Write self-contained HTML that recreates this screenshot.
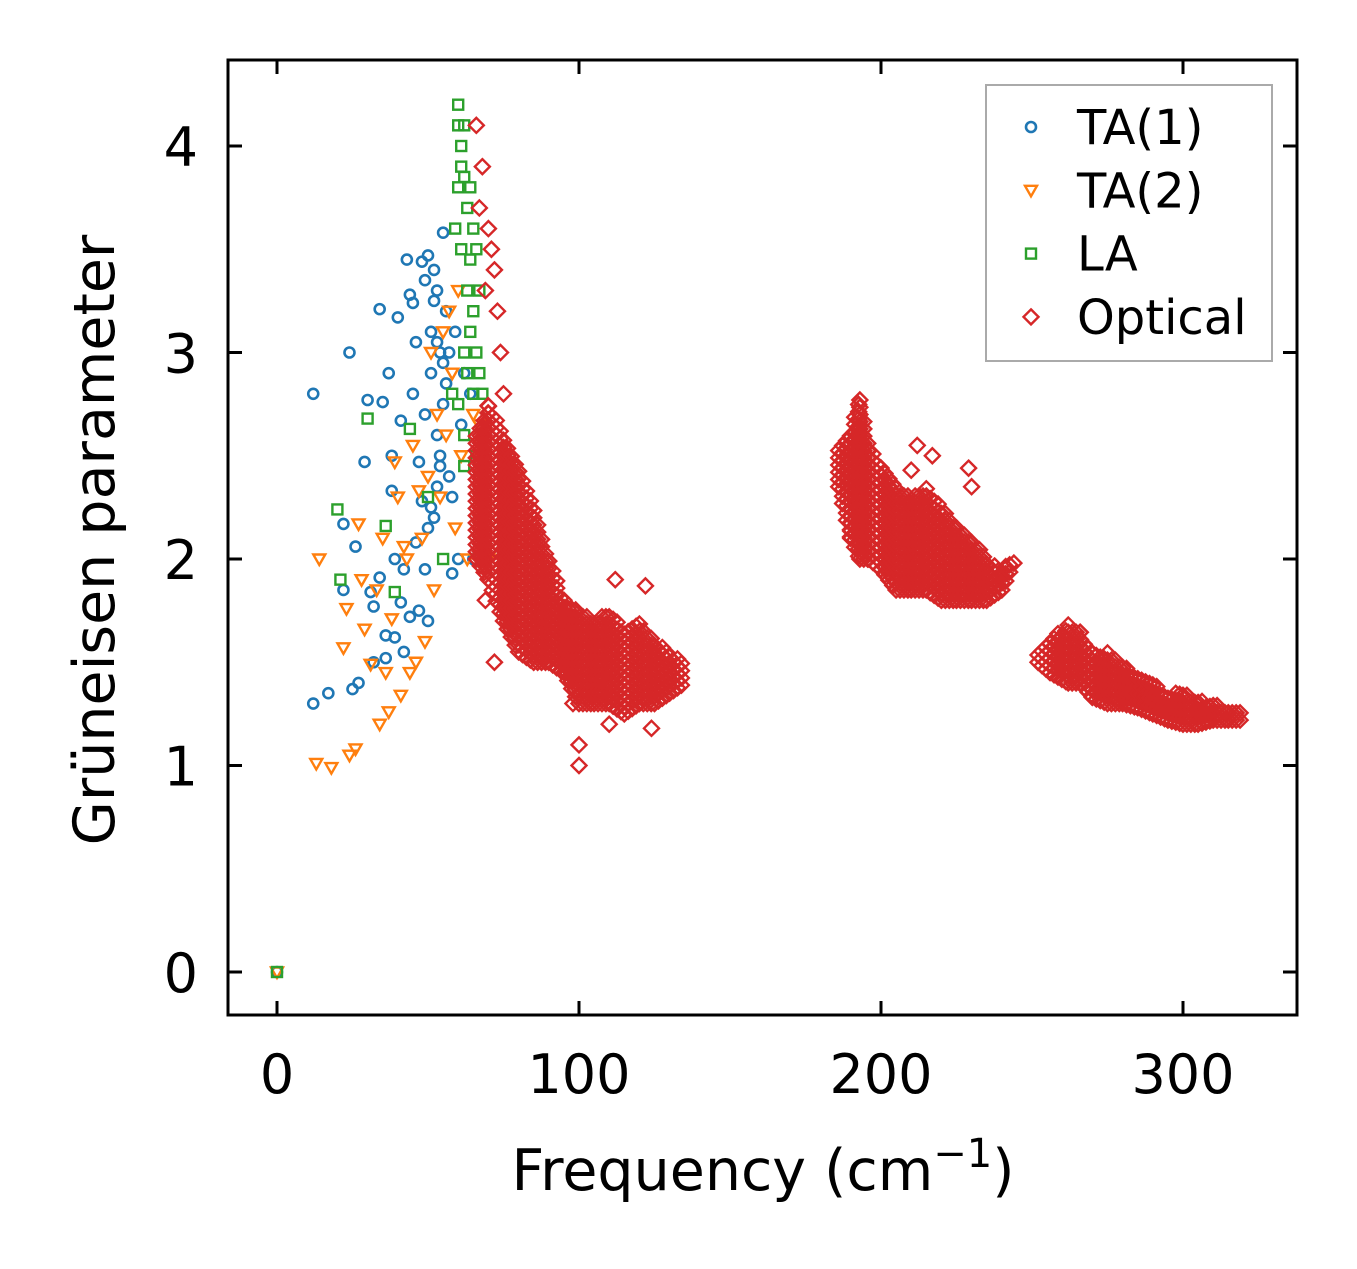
<!DOCTYPE html>
<html><head><meta charset="utf-8"><style>
html,body{margin:0;padding:0;background:#fff;}
svg text{font-family:"DejaVu Sans","Liberation Sans",sans-serif;fill:#000;}
</style></head><body>
<svg id="chart" width="1357" height="1264" viewBox="0 0 1357 1264" xmlns="http://www.w3.org/2000/svg">
<rect x="0" y="0" width="1357" height="1264" fill="#fff"/>
<g id="marks"></g>
<rect x="228" y="60" width="1069" height="955" fill="none" stroke="#000" stroke-width="3"/>
<g id="axes"></g>
<text x="763" y="1190" font-size="57" text-anchor="middle">Frequency (cm<tspan dy="-23" font-size="40">−1</tspan><tspan dy="23">)</tspan></text>
<text transform="translate(114,540) rotate(-90)" font-size="57" text-anchor="middle">Grüneisen parameter</text>
<g>
<rect x="986" y="85" width="286" height="276" fill="#fff" stroke="#aaa" stroke-width="2"/>
<g id="legend-items"></g>
</g>
</svg>
<script>
const xTicks=[0,100,200,300];
const yTicks=[0,1,2,3,4];
const ta1=[[0,0],[12,2.8],[12,1.3],[17,1.35],[22,2.17],[22,1.85],[24,3.0],[25,1.37],[26,2.06],[27,1.4],[29,2.47],[30,2.77],[31,1.84],[32,1.77],[32,1.5],[34,3.21],[34,1.91],[35,2.76],[36,1.63],[36,1.52],[37,2.9],[38,2.33],[38,2.5],[39,1.62],[39,2.0],[40,3.17],[41,1.79],[41,2.67],[42,1.55],[42,1.95],[43,3.45],[44,3.28],[44,1.72],[45,2.8],[45,3.24],[46,3.05],[46,2.08],[47,2.47],[47,1.75],[48,3.44],[48,2.28],[49,1.95],[49,2.7],[50,3.47],[50,2.15],[51,2.9],[51,3.1],[52,3.4],[52,2.2],[53,2.6],[53,3.3],[54,2.5],[54,3.0],[55,3.58],[55,2.75],[56,3.2],[57,2.4],[57,3.0],[58,1.93],[58,2.3],[59,3.1],[60,2.0],[61,2.65],[62,2.9],[64,2.8],[65,2.0],[67,2.4],[50,1.7],[53,2.35],[56,2.85],[52,3.25],[49,3.35],[51,2.25],[54,2.45],[55,2.95],[53,3.05]];
const ta2=[[0,0],[13,1.01],[14,2.0],[18,0.99],[22,1.57],[23,1.76],[24,1.05],[26,1.08],[27,2.17],[28,1.9],[29,1.66],[31,1.49],[33,1.85],[34,1.2],[35,2.1],[36,1.45],[37,1.26],[38,1.71],[39,2.47],[40,2.3],[41,1.34],[42,2.06],[43,2.0],[44,1.45],[45,2.55],[46,1.5],[47,2.33],[48,2.1],[49,1.6],[50,2.4],[51,3.0],[52,1.85],[53,2.7],[54,2.3],[55,3.1],[56,2.6],[57,3.2],[58,2.9],[59,2.15],[60,3.3],[61,2.5],[63,2.0],[65,2.7],[67,2.65],[70,2.0]];
const la=[[0,0],[20,2.24],[21,1.9],[30,2.68],[36,2.16],[39,1.84],[44,2.63],[50,2.3],[55,2.0],[58,2.8],[59,3.6],[60,4.2],[60,3.8],[61,4.0],[61,3.5],[62,4.1],[62,3.0],[62,2.6],[63,3.7],[63,3.3],[63,2.9],[64,3.8],[64,3.45],[64,3.1],[65,3.6],[65,3.2],[65,2.8],[66,3.5],[66,3.0],[66,2.5],[67,3.3],[67,2.9],[68,2.8],[68,2.3],[62,2.45],[60,2.75],[61,3.9],[60,4.1],[62,3.85]];
// optical dense bands: column x, lower and upper y
const optBandX=[66,70,75,80,85,90,95,100,105,110,115,120,125,130,135, 186,190,193,196,200,205,210,215,220,225,230,235,240,243, 252,256,262,266,270,275,280,285,290,295,300,305,310,315,320];
const optBandLow=[2.0,1.9,1.7,1.55,1.5,1.5,1.45,1.3,1.3,1.3,1.25,1.3,1.3,1.35,1.4, 2.35,2.1,2.0,2.0,1.95,1.85,1.85,1.85,1.8,1.8,1.8,1.8,1.85,1.95, 1.5,1.45,1.4,1.4,1.33,1.3,1.3,1.28,1.25,1.22,1.2,1.2,1.22,1.22,1.22];
const optBandHigh=[2.6,2.75,2.6,2.45,2.25,2.0,1.8,1.75,1.7,1.75,1.65,1.7,1.6,1.55,1.5, 2.55,2.6,2.8,2.55,2.45,2.35,2.3,2.35,2.25,2.15,2.1,2.0,1.95,2.0, 1.56,1.62,1.68,1.65,1.55,1.55,1.48,1.45,1.4,1.35,1.35,1.32,1.3,1.28,1.26];
const optSegments=[[0,14],[15,28],[29,43]];
const optOutliers=[[66,4.1],[68,3.9],[70,3.6],[71,3.5],[72,3.4],[73,3.2],[74,3.0],[75,2.8],[67,3.7],[69,3.3],[100,1.0],[100,1.1],[98,1.3],[112,1.9],[122,1.87],[110,1.2],[69,1.8],[72,1.5],[124,1.18],[212,2.55],[217,2.5],[229,2.44],[230,2.35],[210,2.43],[244,1.98]];

const X=v=>277+v*3.02;
const Y=v=>972-v*206.5;
const NS="http://www.w3.org/2000/svg";
const marks=document.getElementById('marks');
function mk(tag,attrs,parent){const e=document.createElementNS(NS,tag);for(const k in attrs)e.setAttribute(k,attrs[k]);parent.appendChild(e);return e;}
function marker(type,cx,cy,parent){
  let e;
  if(type==='circle') e=mk('circle',{cx:cx,cy:cy,r:5,fill:'none',stroke:'#1f77b4','stroke-width':2.6},parent);
  else if(type==='tri') e=mk('polygon',{points:`${cx-6},${cy-4.5} ${cx+6},${cy-4.5} ${cx},${cy+6}`,fill:'none',stroke:'#ff7f0e','stroke-width':2.4},parent);
  else if(type==='square') e=mk('rect',{x:cx-5,y:cy-5,width:10,height:10,fill:'none',stroke:'#2ca02c','stroke-width':2.4},parent);
  else e=mk('polygon',{points:`${cx},${cy-7.5} ${cx+7.5},${cy} ${cx},${cy+7.5} ${cx-7.5},${cy}`,fill:'none',stroke:'#d62728','stroke-width':2.4},parent);
  return e;
}
ta1.forEach(p=>{const e=marker('circle',X(p[0]),Y(p[1]),marks);

});
ta2.forEach(p=>{const e=marker('tri',X(p[0]),Y(p[1]),marks);

});
la.forEach(p=>{const e=marker('square',X(p[0]),Y(p[1]),marks);

});
optSegments.forEach(seg=>{
  for(let i=seg[0];i<seg[1];i++){
    const x0=optBandX[i],x1=optBandX[i+1];
    for(let x=x0;x<x1;x+=1.3){
      const t=(x-x0)/(x1-x0);
      const lo=optBandLow[i]+(optBandLow[i+1]-optBandLow[i])*t;
      const hi=optBandHigh[i]+(optBandHigh[i+1]-optBandHigh[i])*t;
      for(let y=lo;y<=hi+1e-6;y+=0.035){
        const e=marker('diamond',X(x),Y(y),marks);
        
        
      }
    }
  }
});
optOutliers.forEach(p=>{const e=marker('diamond',X(p[0]),Y(p[1]),marks);

});

const axes=document.getElementById('axes');
xTicks.forEach(v=>{
  const x=X(v);
  const t1=mk('line',{x1:x,y1:1015,x2:x,y2:1001,stroke:'#000','stroke-width':3},axes);
  
  
  const t2=mk('line',{x1:x,y1:60,x2:x,y2:74,stroke:'#000','stroke-width':3},axes);
  
  
  const l=mk('text',{x:x,y:1093,'font-size':54,'text-anchor':'middle'},axes);
  l.textContent=v;
  
  
});
yTicks.forEach(v=>{
  const y=Y(v);
  const t1=mk('line',{x1:228,y1:y,x2:242,y2:y,stroke:'#000','stroke-width':3},axes);
  
  
  const t2=mk('line',{x1:1283,y1:y,x2:1297,y2:y,stroke:'#000','stroke-width':3},axes);
  
  
  const l=mk('text',{x:198,y:y+20,'font-size':54,'text-anchor':'end'},axes);
  l.textContent=v;
  
  
});
const legendLabels=['TA(1)','TA(2)','LA','Optical'];
const legendTypes=['circle','tri','square','diamond'];
const lg=document.getElementById('legend-items');
legendLabels.forEach((s,i)=>{
  const y=127+i*63.3;
  const m=marker(legendTypes[i],1031,y,lg);
  
  
  const t=mk('text',{x:1077,y:y+17,'font-size':48},lg);
  t.textContent=s;
  
  
});
</script>
</body></html>
